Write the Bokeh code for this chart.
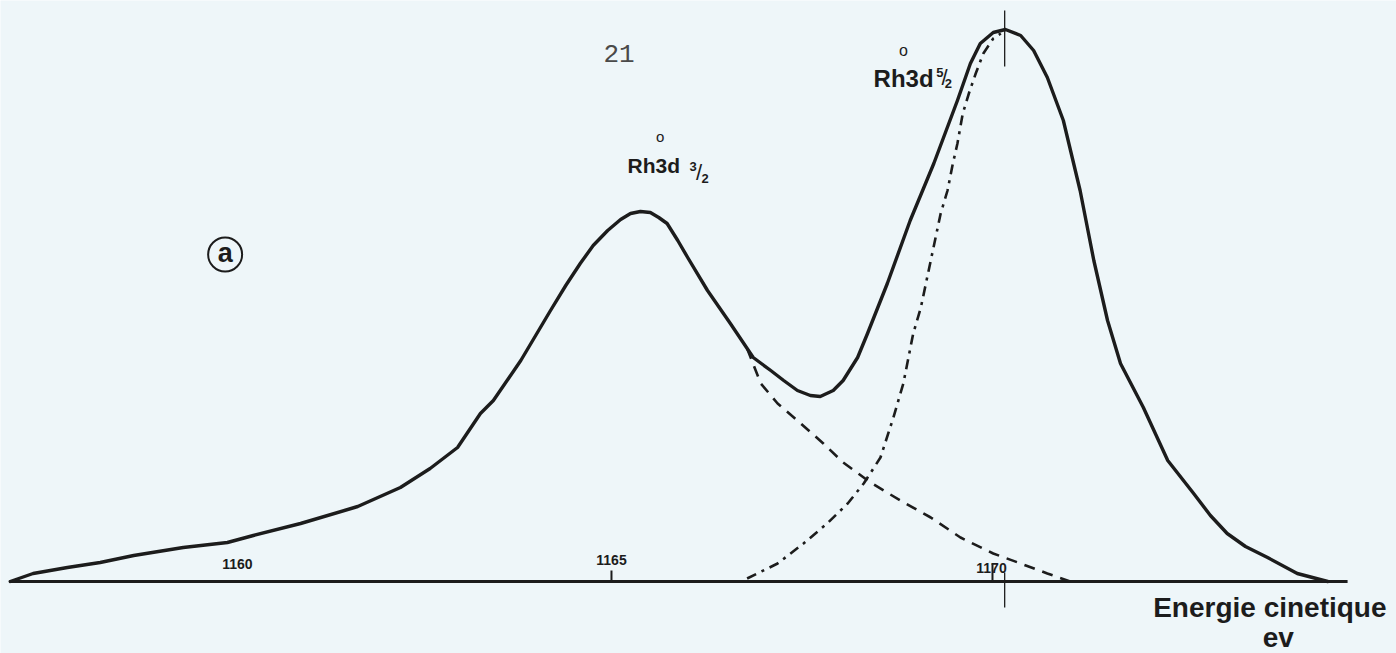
from bokeh.plotting import figure
from bokeh.models import Range1d
from bokeh.core.properties import value
from bokeh.embed import file_html
from bokeh.resources import INLINE

# Rh 3d photoelectron spectrum, kinetic energy scale (eV)
# total envelope
total_energy = [1157.11, 1157.41, 1157.86, 1158.29, 1158.73, 1159.38, 1159.96, 1160.30,
                1160.92, 1161.67, 1162.23, 1162.62, 1162.98, 1163.28, 1163.45, 1163.81,
                1164.20, 1164.40, 1164.59, 1164.76, 1164.95, 1165.12, 1165.25, 1165.38,
                1165.51, 1165.62, 1165.73, 1165.87, 1166.00, 1166.26, 1166.56, 1166.86,
                1167.09, 1167.26, 1167.44, 1167.61, 1167.74, 1167.91, 1168.04, 1168.23,
                1168.36, 1168.62, 1168.92, 1169.23, 1169.54, 1169.71, 1169.84, 1170.01,
                1170.17, 1170.37, 1170.54, 1170.72, 1170.93, 1171.15, 1171.33, 1171.51,
                1171.68, 1171.98, 1172.30, 1172.64, 1172.86, 1173.08, 1173.32, 1173.61,
                1174.00, 1174.40]
total_intensity = [0, 8, 14, 19, 26, 34, 39, 46,
                   58, 75, 94, 113, 134, 168, 181, 221,
                   271, 296, 318, 336, 351, 362, 368, 370,
                   369, 364, 358, 341, 324, 291, 258, 224,
                   211, 201, 191, 186, 185, 191, 201, 224,
                   248, 298, 361, 418, 481, 518, 538, 549,
                   552, 546, 531, 504, 461, 391, 321, 261,
                   218, 174, 121, 88, 66, 48, 35, 24,
                   8, 0]

# Rh 3d3/2 component (dashed, drawn where it leaves the envelope)
d32_energy = [1166.78, 1166.96, 1167.18, 1167.44, 1167.78, 1168.04, 1168.40, 1168.79,
              1169.19, 1169.58, 1170.01, 1170.37, 1170.72, 1171.02]
d32_intensity = [233, 198, 178, 161, 138, 119, 99, 81, 64, 44, 28, 18, 8, 0]

# Rh 3d5/2 component (dash-dot)
d52_energy = [1166.78, 1167.18, 1167.52, 1167.83, 1168.10, 1168.31, 1168.53, 1168.70,
              1168.83, 1168.96, 1169.06, 1169.19, 1169.32, 1169.41, 1169.48, 1169.54,
              1169.61, 1169.69, 1169.78, 1169.88, 1170.01, 1170.11]
d52_intensity = [3, 18, 38, 58, 78, 98, 124, 164,
                 198, 248, 274, 321, 368, 391, 418, 438,
                 468, 488, 508, 528, 543, 548]

tick_values = [1160, 1165, 1170]
tick_labels = ["1160", "1165", "1170"]
tick_heights = [0, 11, 18]
peak_energy = 1170.16
axis_start, axis_end = 1157.10, 1174.66

INK = "#1c1c1c"
PAPER = "#eef6f9"
SANS = value("Liberation Sans")

p = figure(width=1396, height=653, output_backend="svg", toolbar_location=None,
           x_range=Range1d(1156.982, 1175.302), y_range=Range1d(-72, 581),
           min_border=0, min_border_left=0, min_border_right=0,
           min_border_top=0, min_border_bottom=0)
p.axis.visible = False
p.grid.visible = False
p.outline_line_color = None
p.background_fill_color = PAPER
p.border_fill_color = PAPER

# energy axis line and tick marks
p.segment(x0=[axis_start], y0=[0], x1=[axis_end], y1=[0], line_color=INK, line_width=3.2)
tx = [t for t, h in zip(tick_values, tick_heights) if h > 0]
th = [h for h in tick_heights if h > 0]
p.segment(x0=tx, y0=[0] * len(tx), x1=tx, y1=th, line_color=INK, line_width=2)
p.text(x=tick_values, y=[18, 22, 14], text=tick_labels, text_align="center",
       text_baseline="middle", x_offset=[7, 0, -1], text_font=SANS,
       text_font_style="bold", text_font_size="14px", text_color=INK)

# peak position marker
p.segment(x0=[peak_energy, peak_energy], y0=[571, 9], x1=[peak_energy, peak_energy],
          y1=[515, -26], line_color=INK, line_width=1.3)

# component curves
p.line(d32_energy, d32_intensity, line_color=INK, line_width=2.6, line_dash="11 8")
p.line(d52_energy, d52_intensity, line_color=INK, line_width=2.6, line_dash="10 6 3 6")

# envelope
p.line(total_energy, total_intensity, line_color=INK, line_width=3.4, line_join="round",
       line_cap="round")

# page number
p.text(x=[1165.10], y=[528], text=["21"], text_align="center", text_baseline="middle",
       text_font=value("Liberation Mono"), text_font_size="26px", text_color="#4a4a4a")

# panel marker (a)
p.scatter(x=[1159.93], y=[327], marker="circle", size=34, fill_color=None,
          line_color=INK, line_width=2)
p.text(x=[1159.93], y=[329], text=["a"], text_align="center", text_baseline="middle",
       text_font=SANS, text_font_style="bold", text_font_size="27px", text_color=INK)

# peak labels: Rh° 3d3/2 and Rh° 3d5/2
p.text(x=[1165.21, 1168.44], y=[416, 503], text=["Rh3d", "Rh3d"], text_align="left",
       text_baseline="alphabetic", text_font=SANS, text_font_style="bold",
       text_font_size=["21px", "24px"], text_color=INK)
p.text(x=[1165.64, 1168.83], y=[445, 531], text=["o", "o"], text_align="center",
       text_baseline="middle", text_font=SANS, text_font_size=["15px", "16px"],
       text_color=INK)
p.text(x=[1166.07, 1169.31], y=[415, 509], text=["3", "5"], text_align="center",
       text_baseline="middle", text_font=SANS, text_font_style="bold",
       text_font_size="13px", text_color=INK)
p.text(x=[1166.15, 1169.37], y=[409, 504], text=["/", "/"], text_align="center",
       text_baseline="middle", text_font=SANS, text_font_size="22px", text_color=INK)
p.text(x=[1166.23, 1169.42], y=[403, 498], text=["2", "2"], text_align="center",
       text_baseline="middle", text_font=SANS, text_font_style="bold",
       text_font_size="13px", text_color=INK)

# axis title
p.text(x=[1173.64, 1173.75], y=[-26, -56], text=["Energie cinetique", "ev"],
       text_align="center", text_baseline="middle", text_font=SANS,
       text_font_style="bold", text_font_size="28px", text_color=INK)

open("out.html", "w").write(file_html(p, INLINE))
